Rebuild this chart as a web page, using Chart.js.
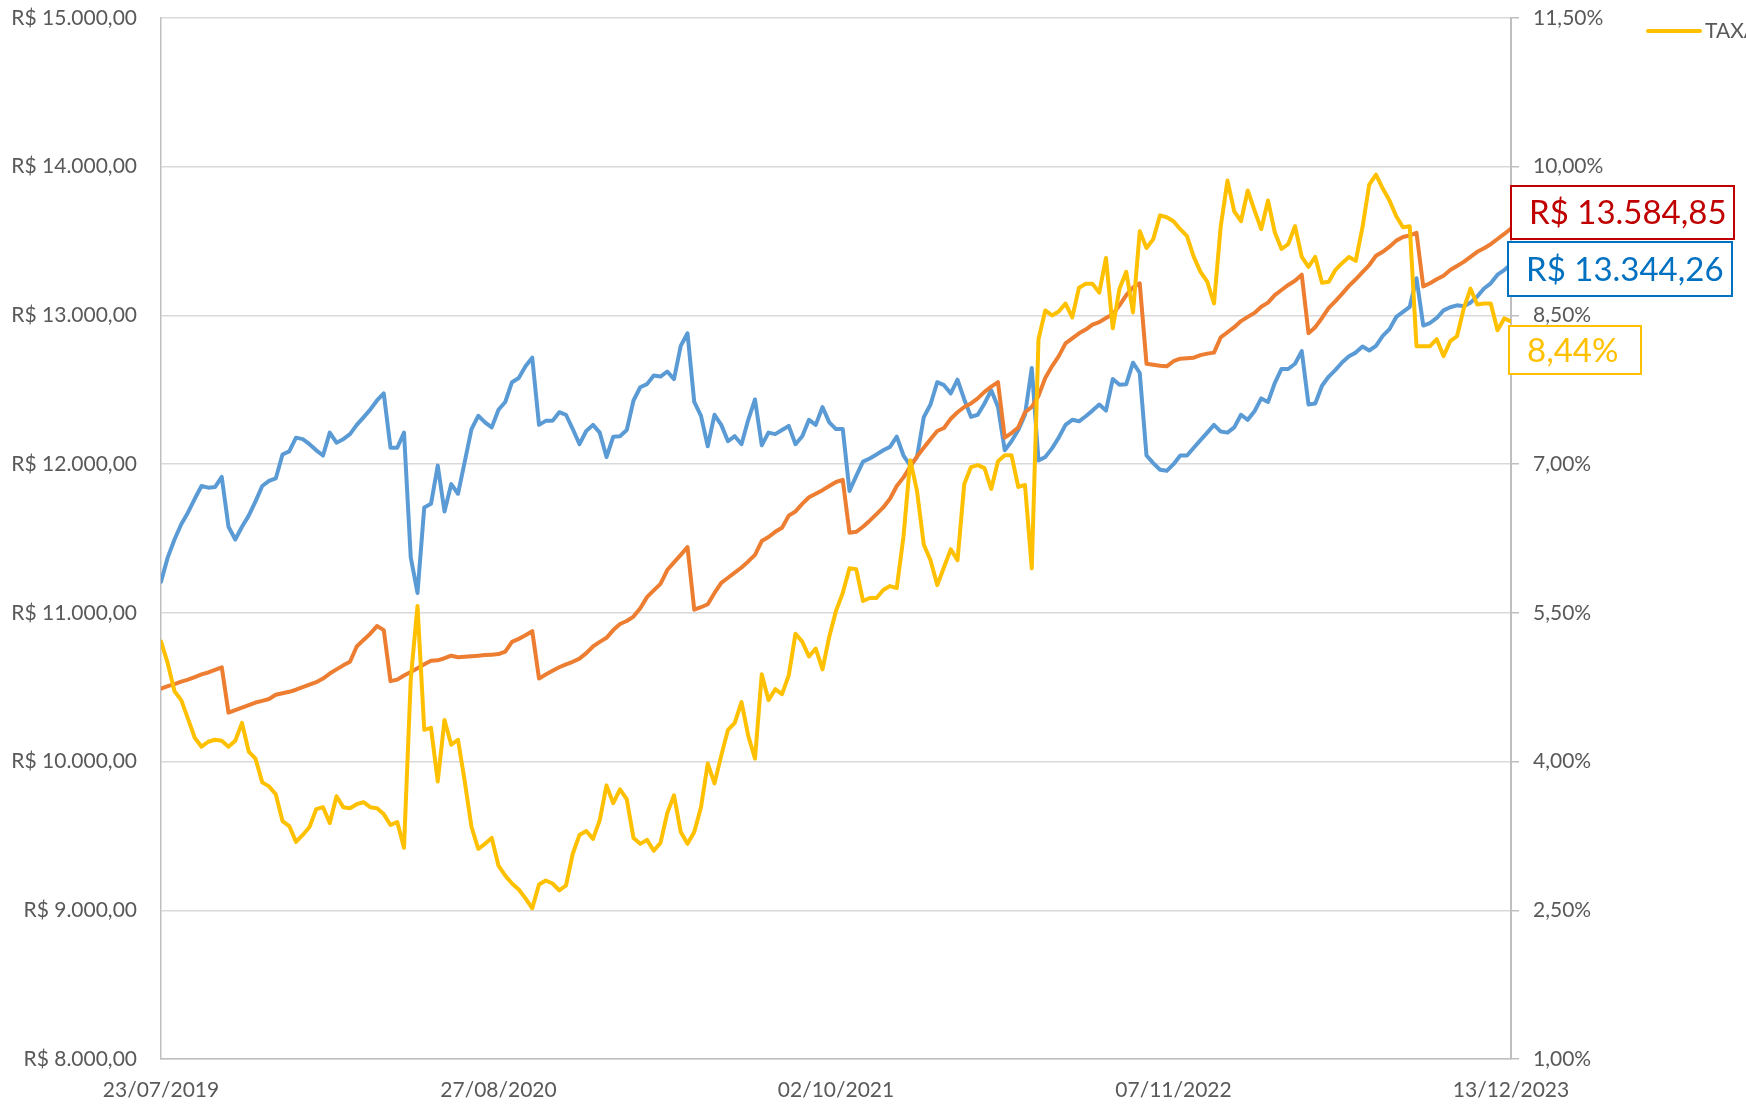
<!DOCTYPE html>
<html>
<head>
<meta charset="utf-8">
<script src="https://cdn.jsdelivr.net/npm/chart.js"></script>
<style>
  html, body { margin: 0; padding: 0; background: #fff; overflow: hidden; }
  #chart { display: block; }
</style>
</head>
<body>
<canvas id="chart" width="1746" height="1106"></canvas>

<script>
// tick labels on the date axis (first, last and three in between)
const xTickLabels = ['23/07/2019', '27/08/2020', '02/10/2021', '07/11/2022', '13/12/2023'];

// blue series (R$, left axis), read every ~8 days
const blueValues = [
  11210, 11373, 11493, 11596, 11675, 11767, 11853, 11842, 11846, 11914,
  11579, 11493, 11579, 11654, 11750, 11853, 11887, 11904, 12065, 12086,
  12178, 12168, 12134, 12093, 12058, 12212, 12144, 12168, 12202, 12264,
  12315, 12367, 12428, 12476, 12110, 12110, 12212, 11373, 11134, 11709,
  11733, 11990, 11682, 11866, 11801, 12017, 12236, 12325, 12281, 12247,
  12366, 12418, 12551, 12579, 12658, 12716, 12264, 12291, 12291, 12349,
  12332, 12236, 12134, 12223, 12264, 12212, 12048, 12185, 12188, 12229,
  12428, 12517, 12538, 12596, 12589, 12623, 12572, 12795, 12880, 12418,
  12325, 12120, 12332, 12264, 12154, 12188, 12134, 12298, 12435, 12127,
  12212, 12202, 12229, 12257, 12134, 12188, 12298, 12264, 12384, 12281,
  12236, 12236, 11819, 11921, 12017, 12038, 12065, 12093, 12116, 12185,
  12058, 11990, 12048, 12315, 12401, 12551, 12531, 12476, 12568, 12435,
  12318, 12332, 12408, 12497, 12384, 12093, 12154, 12229, 12332, 12647,
  12024, 12048, 12106, 12178, 12264, 12298, 12288, 12322, 12360, 12401,
  12360, 12572, 12534, 12538, 12682, 12613, 12058, 12007, 11962, 11955,
  12000, 12058, 12058, 12110, 12161, 12212, 12264, 12219, 12212, 12247,
  12332, 12298, 12356, 12442, 12418, 12545, 12640, 12640, 12675, 12760,
  12401, 12408, 12527, 12589, 12634, 12685, 12726, 12750, 12791, 12764,
  12795, 12863, 12908, 12990, 13024, 13058, 13250, 12932, 12949, 12983,
  13034, 13055, 13068, 13062, 13086, 13127, 13181, 13216, 13274, 13305,
  13344.26
];

// orange series (R$, left axis)
const orangeValues = [
  10490, 10507, 10521, 10538, 10551, 10568, 10586, 10599, 10616, 10634,
  10329, 10346, 10363, 10380, 10397, 10408, 10421, 10449, 10459, 10469,
  10483, 10500, 10517, 10534, 10558, 10592, 10620, 10647, 10671, 10774,
  10818, 10860, 10911, 10884, 10541, 10551, 10579, 10603, 10627, 10654,
  10678, 10681, 10695, 10712, 10702, 10705, 10709, 10712, 10716, 10719,
  10723, 10740, 10805, 10825, 10849, 10877, 10558, 10586, 10610, 10634,
  10654, 10671, 10692, 10729, 10774, 10805, 10832, 10884, 10925, 10945,
  10975, 11031, 11106, 11151, 11195, 11288, 11339, 11390, 11442, 11021,
  11038, 11058, 11134, 11202, 11236, 11271, 11305, 11346, 11390, 11483,
  11510, 11545, 11572, 11654, 11682, 11733, 11777, 11801, 11825, 11853,
  11880, 11894, 11538, 11545, 11579, 11620, 11664, 11709, 11767, 11853,
  11911, 11983, 12051, 12110, 12168, 12223, 12243, 12305, 12349, 12384,
  12408, 12442, 12486, 12521, 12551, 12178, 12209, 12247, 12349, 12384,
  12459, 12579, 12658, 12726, 12812, 12846, 12880, 12905, 12938, 12955,
  12983, 13007, 13068, 13137, 13188, 13216, 12675, 12668, 12661, 12658,
  12692, 12709, 12712, 12716, 12733, 12743, 12750, 12853, 12887, 12921,
  12962, 12990, 13017, 13058, 13086, 13137, 13171, 13205, 13233, 13274,
  12880, 12921, 12983, 13051, 13096, 13147, 13199, 13243, 13291, 13339,
  13401, 13428, 13462, 13503, 13527, 13538, 13555, 13195, 13216, 13243,
  13267, 13305, 13332, 13360, 13394, 13428, 13452, 13479, 13514, 13548,
  13584.85
];

// TAXA (%, right axis)
const taxaValues = [
  5.21, 4.99, 4.71, 4.62, 4.43, 4.24, 4.15, 4.20, 4.22, 4.21,
  4.15, 4.21, 4.39, 4.10, 4.03, 3.79, 3.75, 3.67, 3.40, 3.35,
  3.19, 3.26, 3.34, 3.52, 3.54, 3.38, 3.65, 3.54, 3.53, 3.57,
  3.59, 3.54, 3.53, 3.47, 3.36, 3.39, 3.13, 4.83, 5.57, 4.32,
  4.34, 3.80, 4.42, 4.17, 4.22, 3.80, 3.34, 3.12, 3.17, 3.23,
  2.95, 2.85, 2.77, 2.71, 2.62, 2.52, 2.76, 2.80, 2.77, 2.70,
  2.75, 3.07, 3.26, 3.30, 3.22, 3.41, 3.76, 3.58, 3.72, 3.62,
  3.23, 3.17, 3.21, 3.10, 3.18, 3.48, 3.66, 3.29, 3.17, 3.29,
  3.54, 3.98, 3.78, 4.06, 4.32, 4.39, 4.60, 4.26, 4.03, 4.88,
  4.62, 4.73, 4.68, 4.87, 5.29, 5.21, 5.06, 5.14, 4.93, 5.26,
  5.52, 5.70, 5.95, 5.94, 5.62, 5.65, 5.65, 5.73, 5.77, 5.75,
  6.27, 7.04, 6.73, 6.19, 6.03, 5.78, 5.96, 6.14, 6.03, 6.80,
  6.97, 6.99, 6.96, 6.75, 7.03, 7.09, 7.09, 6.77, 6.79, 5.95,
  8.26, 8.55, 8.50, 8.54, 8.62, 8.48, 8.78, 8.82, 8.82, 8.73,
  9.08, 8.37, 8.77, 8.94, 8.53, 9.35, 9.18, 9.27, 9.51, 9.49,
  9.45, 9.37, 9.30, 9.09, 8.94, 8.84, 8.62, 9.40, 9.86, 9.55,
  9.45, 9.76, 9.56, 9.37, 9.66, 9.34, 9.17, 9.22, 9.40, 9.09,
  8.99, 9.09, 8.83, 8.84, 8.96, 9.03, 9.09, 9.05, 9.39, 9.82,
  9.92, 9.78, 9.66, 9.50, 9.39, 9.40, 8.19, 8.19, 8.19, 8.26,
  8.09, 8.24, 8.29, 8.57, 8.77, 8.61, 8.62, 8.62, 8.35, 8.47,
  8.44
];

// sample positions along the date axis
const sampleIdx = blueValues.map((_, i) => i);

const FONT = 'Lato, "Noto Sans", sans-serif';
const GREY = '#595959';

function fmtBRL(v) {
  const [int, dec] = v.toFixed(2).split('.');
  return 'R$ ' + int.replace(/\B(?=(\d{3})+(?!\d))/g, '.') + ',' + dec;
}
function fmtPct(v) {
  return v.toFixed(2).replace('.', ',') + '%';
}

// fixed axis sizes so the plot area sits where it does in the original
function fixWidth(w) {
  return s => {
    s.width = w;
    s.paddingTop = 0;
    s.paddingBottom = 0;
  };
}

// value boxes at the right and the (cut off) legend entry
const extras = {
  id: 'extras',
  afterDraw(chart) {
    const c = chart.ctx;
    const ds = chart.data.datasets;
    const last = a => a[a.length - 1];
    const boxes = [
      { text: fmtBRL(last(ds[1].data)), color: '#C00000', x: 1511, y: 186, w: 223, h: 53 },
      { text: fmtBRL(last(ds[2].data)), color: '#0070C0', x: 1508, y: 242, w: 224, h: 54 },
      { text: fmtPct(last(ds[0].data)), color: '#FFC000', x: 1509, y: 326, w: 132, h: 48 }
    ];
    c.save();
    c.font = '33px ' + FONT;
    c.textBaseline = 'middle';
    c.textAlign = 'left';
    boxes.forEach(b => {
      c.fillStyle = '#fff';
      c.fillRect(b.x, b.y, b.w, b.h);
      c.strokeStyle = b.color;
      c.lineWidth = 2;
      c.strokeRect(b.x, b.y, b.w, b.h);
      c.fillStyle = b.color;
      c.fillText(b.text, b.x + 18, b.y + b.h / 2 + 1);
    });

    // legend
    c.strokeStyle = ds[0].borderColor;
    c.lineWidth = 4;
    c.lineCap = 'round';
    c.beginPath();
    c.moveTo(1648, 31);
    c.lineTo(1700, 31);
    c.stroke();
    c.font = '21px ' + FONT;
    c.fillStyle = GREY;
    c.fillText(ds[0].label, 1705, 31);
    c.restore();
  }
};

new Chart(document.getElementById('chart'), {
  type: 'line',
  data: {
    labels: sampleIdx,
    datasets: [
      { label: 'TAXA', data: taxaValues, yAxisID: 'y1', borderColor: '#FFC000', order: 1 },
      { label: 'Série laranja', data: orangeValues, yAxisID: 'y', borderColor: '#ED7D31', order: 2 },
      { label: 'Série azul', data: blueValues, yAxisID: 'y', borderColor: '#5B9BD5', order: 3 }
    ]
  },
  options: {
    responsive: false,
    animation: false,
    layout: { padding: { top: 18, left: 0, right: 0, bottom: 0 } },
    elements: {
      point: { radius: 0 },
      line: { borderWidth: 4, tension: 0, borderJoinStyle: 'round', borderCapStyle: 'round' }
    },
    plugins: { legend: { display: false }, tooltip: { enabled: false } },
    scales: {
      x: {
        type: 'linear',
        min: 0,
        max: sampleIdx.length - 1,
        grid: { display: false },
        border: { color: '#BFBFBF', width: 1.5 },
        ticks: {
          stepSize: (sampleIdx.length - 1) / 4,
          padding: 11,
          maxRotation: 0,
          autoSkip: false,
          color: GREY,
          font: { family: FONT, size: 21 },
          callback: v => xTickLabels[Math.round(v / ((sampleIdx.length - 1) / 4))]
        },
        afterFit: s => { s.height = 47; }
      },
      y: {
        position: 'left',
        min: 8000,
        max: 15000,
        grid: { color: '#D9D9D9', lineWidth: 1.5, drawTicks: false },
        border: { color: '#BFBFBF', width: 1.5 },
        ticks: {
          stepSize: 1000,
          padding: 24,
          color: GREY,
          font: { family: FONT, size: 21 },
          callback: v => fmtBRL(v)
        },
        afterFit: fixWidth(161)
      },
      y1: {
        position: 'right',
        min: 1,
        max: 11.5,
        grid: { drawOnChartArea: false, color: '#BFBFBF', lineWidth: 1.5, tickLength: 8 },
        border: { color: '#BFBFBF', width: 2 },
        ticks: {
          stepSize: 1.5,
          padding: 14,
          color: GREY,
          font: { family: FONT, size: 21 },
          callback: v => fmtPct(v)
        },
        afterFit: fixWidth(235)
      }
    }
  },
  plugins: [extras]
});
</script>
</body>
</html>
